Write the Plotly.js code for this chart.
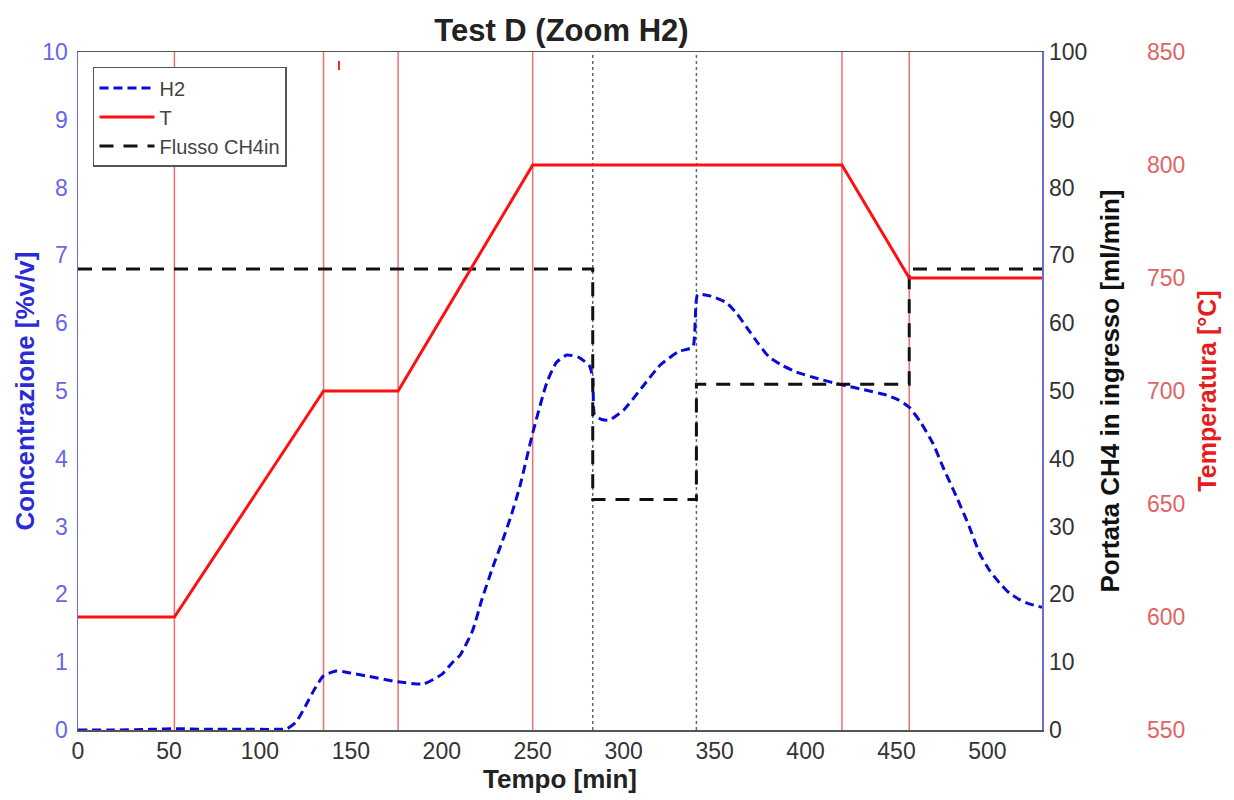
<!DOCTYPE html>
<html>
<head>
<meta charset="utf-8">
<script src="https://cdn.plot.ly/plotly-3.0.1.min.js"></script>
<style>html,body{margin:0;padding:0;background:#fff;}#chart{width:1234px;height:800px;}</style>
</head>
<body>
<div id="chart"></div>
<script>
// ---- Data ----
const h2Time = [0,20,40,55,70,90,110,115,120,125,130,135,142,150,160,176,190,200,206,210,217,222,228,233.5,238,243,250,257.7,263,268.7,275,281,283,284,288,292,300,310,320,330,338,340.7,348,356.6,362,367.6,374,380,387,395,407,420,432,444.5,451,457,463,470,476,483,490,495.6,501,506.6,512,518,523,530];
const h2Conc = [0,0,0.01,0.02,0.01,0.01,0.01,0.02,0.12,0.35,0.6,0.8,0.87,0.84,0.79,0.71,0.68,0.82,1.0,1.1,1.47,1.92,2.4,2.8,3.15,3.6,4.38,5.12,5.42,5.53,5.5,5.38,5.2,4.65,4.58,4.57,4.72,5.05,5.38,5.58,5.65,6.42,6.4,6.3,6.15,5.94,5.7,5.5,5.38,5.28,5.18,5.09,5.02,4.94,4.87,4.76,4.55,4.23,3.85,3.44,3.0,2.61,2.36,2.17,2.02,1.92,1.86,1.81];

const tempTime = [0,53,135,176,250,420,457,530];
const tempVal  = [600,600,700,700,800,800,750,750];

const flowTime = [0,283,283,340,340,457,457,530];
const flowVal  = [68,68,34,34,51,51,68,68];

const markTime = [143.5,143.5];
const markTemp = [846,842];

const redLinesTime = [53,135,176,250,420,457];
const dottedLinesTime = [283,340];

const xTicks = [0,50,100,150,200,250,300,350,400,450,500];
const yConcTicks = [0,1,2,3,4,5,6,7,8,9,10];
const yFlowTicks = [0,10,20,30,40,50,60,70,80,90,100];
const yTempTicks = [550,600,650,700,750,800,850];

const FONT = 'Liberation Sans, Arial, sans-serif';

const traces = [
  {x: h2Time, y: h2Conc, name: 'H2', mode: 'lines', yaxis: 'y',
   line: {color: '#0a0ad8', width: 3, dash: '9px,5px', shape: 'spline', smoothing: 0.5}},
  {x: tempTime, y: tempVal, name: 'T', mode: 'lines', yaxis: 'y3',
   line: {color: '#ff1010', width: 3}},
  {x: flowTime, y: flowVal, name: 'Flusso CH4in', mode: 'lines', yaxis: 'y2',
   line: {color: '#111', width: 3, dash: '14px,10px'}},
  {x: markTime, y: markTemp, mode: 'lines', yaxis: 'y3', showlegend: false, hoverinfo: 'skip',
   line: {color: '#e03030', width: 2}}
];

const shapes = [];
redLinesTime.forEach(t => shapes.push({type: 'line', xref: 'x', yref: 'y domain', x0: t, x1: t, y0: 0, y1: 1,
  layer: 'below', line: {color: '#ee6f6f', width: 1.5}}));
dottedLinesTime.forEach(t => shapes.push({type: 'line', xref: 'x', yref: 'y domain', x0: t, x1: t, y0: 0, y1: 1,
  layer: 'below', line: {color: '#666', width: 1.5, dash: 'dot'}}));

const layout = {
  width: 1234, height: 800,
  margin: {l: 78, r: 20, t: 52, b: 70},
  paper_bgcolor: '#fff', plot_bgcolor: '#fff',
  font: {family: FONT, size: 23, color: '#333'},
  title: {text: '<b>Test D (Zoom H2)</b>', font: {family: FONT, size: 31, color: '#222'},
          x: 0.455, xref: 'container', xanchor: 'center', y: 0.9625, yref: 'container', yanchor: 'middle'},
  showlegend: true,
  legend: {x: 0.0132, y: 0.978, xanchor: 'left', yanchor: 'top', bgcolor: '#fff',
           bordercolor: '#555', borderwidth: 1.5, font: {family: FONT, size: 20, color: '#444'},
           tracegroupgap: 0, itemwidth: 55},
  xaxis: {domain: [0, 0.8486], range: [0, 530], tickvals: xTicks, showgrid: false, zeroline: false,
          showline: true, linecolor: '#555', linewidth: 1.5, mirror: true, ticks: '',
          tickfont: {family: FONT, size: 23, color: '#333'},
          title: {text: '<b>Tempo [min]</b>', font: {family: FONT, size: 26, color: '#222'}, standoff: 5}},
  yaxis: {range: [0, 10], tickvals: yConcTicks, showgrid: false, zeroline: false,
          showline: true, linecolor: '#6a6ad8', linewidth: 1.5, mirror: true, ticks: '', ticklabelstandoff: 4,
          tickfont: {family: FONT, size: 23, color: '#6666e6'},
          title: {text: '<b>Concentrazione [%v/v]</b>', font: {family: FONT, size: 26, color: '#2a2ad6'}, standoff: 0}},
  yaxis2: {overlaying: 'y', side: 'right', anchor: 'x', range: [0, 100], tickvals: yFlowTicks,
           showgrid: false, zeroline: false, showline: false, ticks: '', ticklabelstandoff: 6,
           tickfont: {family: FONT, size: 23, color: '#333'},
           title: {text: '<b>Portata CH4 in ingresso [ml/min]</b>', font: {family: FONT, size: 26, color: '#111'}, standoff: 14}},
  yaxis3: {overlaying: 'y', side: 'right', anchor: 'free', position: 0.9401, range: [550, 850], tickvals: yTempTicks,
           showgrid: false, zeroline: false, showline: false, ticks: '',
           tickfont: {family: FONT, size: 23, color: '#e06464'},
           title: {text: '<b>Temperatura [°C]</b>', font: {family: FONT, size: 25, color: '#e81c1c'}, standoff: 14}},
  shapes: shapes
};

Plotly.newPlot('chart', traces, layout, {displayModeBar: false, staticPlot: true});
</script>
</body>
</html>
